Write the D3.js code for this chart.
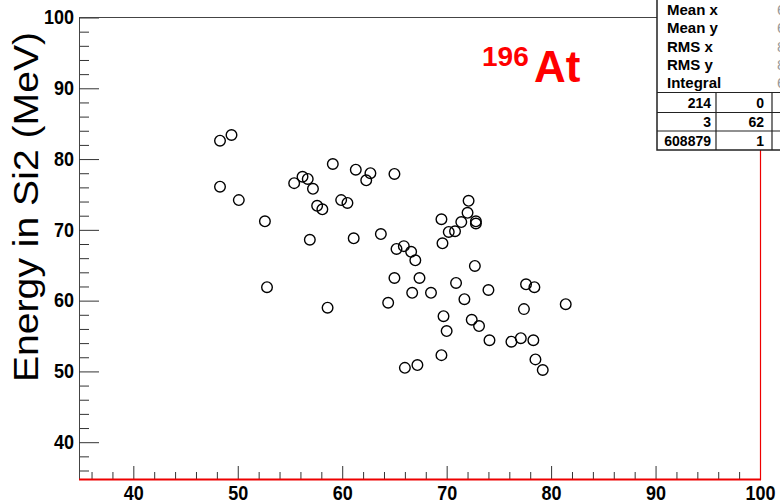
<!DOCTYPE html>
<html>
<head>
<meta charset="utf-8">
<script src="https://cdn.jsdelivr.net/npm/d3@7"></script>
<style>
body { margin: 0; background: #fff; }
svg { display: block; font-family: "Liberation Sans", Arial, sans-serif; }
</style>
</head>
<body>
<svg width="780" height="502"></svg>
<script>
// energy points
var xValues = [48.3, 49.4, 48.3, 50.1, 52.6, 52.8, 55.4, 56.2, 56.7, 57.2,
               57.6, 58.1, 56.9, 58.6, 59.1, 59.9, 60.5, 61.1, 61.3, 62.3,
               62.7, 65.0, 63.7, 65.2, 65.9, 66.6, 67.0, 65.0, 67.4, 64.4,
               66.7, 68.5, 69.5, 69.6, 70.2, 70.8, 71.4, 72.0, 72.1, 72.8,
               72.8, 72.7, 70.9, 71.7, 74.0, 69.7, 70.0, 72.4, 73.1, 74.1,
               69.5, 66.0, 67.2, 77.6, 78.4, 77.4, 81.4, 76.2, 77.1, 78.3,
               78.5, 79.2];
var yValues = [82.6, 83.4, 76.1, 74.2, 71.2, 61.9, 76.6, 77.5, 77.2, 75.8,
               73.4, 72.9, 68.6, 59.0, 79.3, 74.2, 73.8, 68.8, 78.5, 77.0,
               78.0, 77.9, 69.4, 67.3, 67.7, 66.9, 65.7, 63.2, 63.2, 59.7,
               61.1, 61.1, 71.5, 68.1, 69.7, 69.8, 71.1, 72.4, 74.1, 71.2,
               70.9, 64.9, 62.5, 60.2, 61.5, 57.8, 55.7, 57.3, 56.4, 54.4,
               52.3, 50.5, 50.9, 62.3, 61.9, 58.8, 59.5, 54.2, 54.7, 54.4,
               51.7, 50.2];
var xTicks = [40, 50, 60, 70, 80, 90, 100];
var yTicks = [40, 50, 60, 70, 80, 90, 100];
var statNames = ["Mean x", "Mean y", "RMS x", "RMS y", "Integral"];
var tableRows = [["214", "0"], ["3", "62"], ["608879", "1"]];
var yLabel = "Energy in Si2 (MeV)";

var svg = d3.select("svg");

var x = d3.scaleLinear().domain([34.8, 100]).range([79, 760]);
var y = d3.scaleLinear().domain([34.8, 100]).range([479, 17.5]);

var minor = d3.range(36, 100, 2).filter(function(d) { return d % 10 != 0; });

// y axis, ticks pointing into the frame
var gy = svg.append("g").attr("transform", "translate(79,0)");
gy.call(d3.axisLeft(y).tickValues(minor).tickSizeInner(-10).tickSizeOuter(0).tickFormat(""));
gy.append("g").call(d3.axisLeft(y).tickValues(yTicks).tickSizeInner(-20).tickSizeOuter(0));
gy.selectAll("path").attr("stroke", "#444");
gy.selectAll("line").attr("stroke", "#333");
gy.selectAll("text")
    .attr("font-size", 18)
    .attr("font-weight", "bold")
    .attr("fill", "#000")
    .attr("font-family", "Liberation Sans, Arial, sans-serif")
    .attr("x", -5)
    .attr("y", 0)
    .attr("dy", "0.3em")
    .attr("transform", "scale(1,1.15)");

// x axis
var gx = svg.append("g").attr("transform", "translate(0,479)");
gx.call(d3.axisBottom(x).tickValues(minor).tickSizeInner(-7).tickSizeOuter(0).tickFormat(""));
gx.append("g").call(d3.axisBottom(x).tickValues(xTicks).tickSizeInner(-13).tickSizeOuter(0));
gx.selectAll("path").attr("stroke", "#222");
gx.selectAll("line").attr("stroke", "#333");
gx.selectAll("text")
    .attr("font-size", 18)
    .attr("font-weight", "bold")
    .attr("fill", "#000")
    .attr("font-family", "Liberation Sans, Arial, sans-serif")
    .attr("y", 0)
    .attr("dy", 0)
    .attr("transform", "translate(0,21) scale(1,1.12)");

// frame: top line, red bottom and right edges
svg.append("line").attr("x1", 79).attr("x2", 657).attr("y1", 17.5).attr("y2", 17.5)
    .attr("stroke", "#444").attr("stroke-width", 1.2);
svg.append("line").attr("x1", 79).attr("x2", 761).attr("y1", 479.5).attr("y2", 479.5)
    .attr("stroke", "#e00").attr("stroke-width", 2);
svg.append("line").attr("x1", 760.5).attr("x2", 760.5).attr("y1", 17.5).attr("y2", 480)
    .attr("stroke", "#111").attr("stroke-width", 1);
svg.append("line").attr("x1", 760.5).attr("x2", 760.5).attr("y1", 17.5).attr("y2", 480)
    .attr("stroke", "#e00").attr("stroke-width", 1.2);

// points
svg.append("g")
    .selectAll("circle")
    .data(xValues)
    .enter().append("circle")
    .attr("cx", function(d) { return x(d); })
    .attr("cy", function(d, i) { return y(yValues[i]); })
    .attr("r", 5.3)
    .attr("fill", "none")
    .attr("stroke", "#000")
    .attr("stroke-width", 1.4);

// y label
svg.append("text")
    .attr("transform", "translate(38,207) rotate(-90)")
    .attr("text-anchor", "middle")
    .attr("font-size", 35)
    .attr("textLength", 350)
    .attr("lengthAdjust", "spacingAndGlyphs")
    .text(yLabel);

// nucleus label
var lab = svg.append("g").attr("fill", "#ff0000").attr("font-weight", "bold");
lab.append("text").attr("x", 482).attr("y", 66).attr("font-size", 28).text("196");
lab.append("text").attr("x", 534).attr("y", 82).attr("font-size", 44).text("At");

// stats box, runs off the right edge
var st = svg.append("g");
st.append("rect").attr("x", 657).attr("y", -2).attr("width", 140).attr("height", 152)
    .attr("fill", "#fff").attr("stroke", "#222").attr("stroke-width", 1.5);

var stats = [d3.mean(xValues), d3.mean(yValues), d3.deviation(xValues), d3.deviation(yValues), xValues.length];
var rowY = [15, 33, 52, 70, 88];
statNames.forEach(function(s, i) {
    st.append("text").attr("x", 667).attr("y", rowY[i])
        .attr("font-size", 15).attr("font-weight", "bold").text(s);
    st.append("text").attr("x", 777).attr("y", rowY[i])
        .attr("font-size", 15).attr("fill", "#999").text(d3.format(".4")(stats[i]));
});

[92.5, 112.5, 131].forEach(function(ly) {
    st.append("line").attr("x1", 657).attr("x2", 780).attr("y1", ly).attr("y2", ly)
        .attr("stroke", "#222").attr("stroke-width", 1.2);
});
[716, 772].forEach(function(lx) {
    st.append("line").attr("x1", lx).attr("x2", lx).attr("y1", 92.5).attr("y2", 150)
        .attr("stroke", "#222").attr("stroke-width", 1.2);
});
tableRows.forEach(function(r, i) {
    var by = [108, 127, 146][i];
    st.append("text").attr("x", 711).attr("y", by).attr("text-anchor", "end")
        .attr("font-size", 14).attr("font-weight", "bold").text(r[0]);
    st.append("text").attr("x", 764).attr("y", by).attr("text-anchor", "end")
        .attr("font-size", 14).attr("font-weight", "bold").text(r[1]);
});
</script>
</body>
</html>
